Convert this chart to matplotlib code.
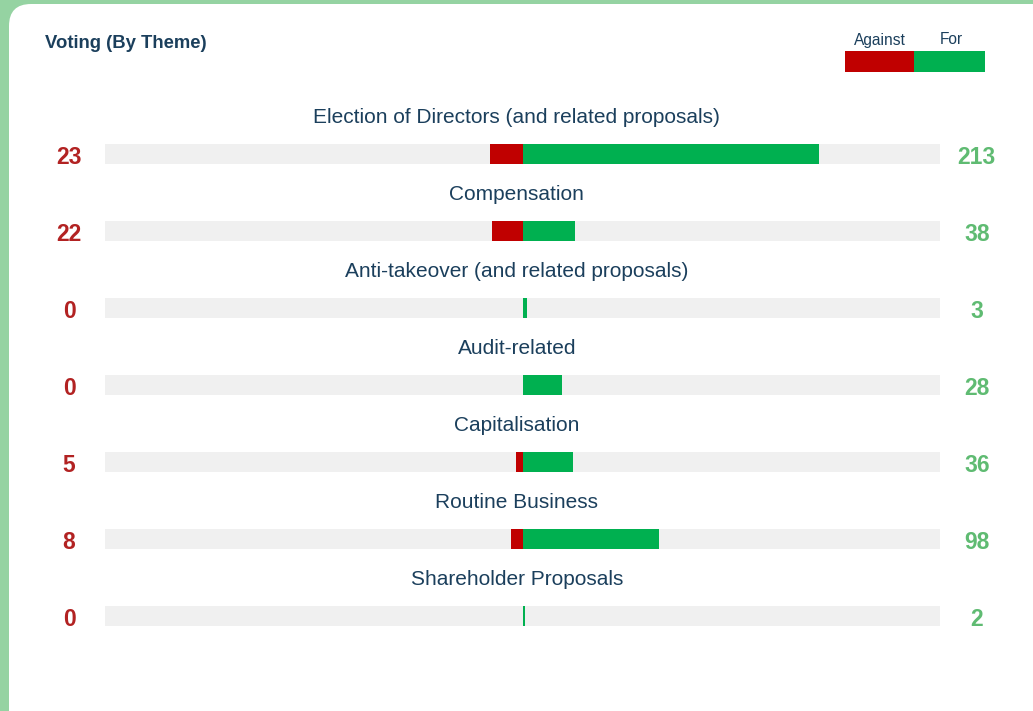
import numpy as np
import matplotlib
matplotlib.use("Agg")
import matplotlib.pyplot as plt
from matplotlib.patches import FancyBboxPatch, Rectangle
import matplotlib.transforms as mtransforms

plt.rcParams['font.family'] = ['Liberation Sans', 'DejaVu Sans']

# data
themes = ['Election of Directors (and related proposals)', 'Compensation',
          'Anti-takeover (and related proposals)', 'Audit-related',
          'Capitalisation', 'Routine Business', 'Shareholder Proposals']
against = [23, 22, 0, 0, 5, 8, 0]
for_votes = [213, 38, 3, 28, 36, 98, 2]

RED = '#c00000'
GREEN = '#00b050'
TRACK = '#f0f0f0'
TXT = '#1b3f5c'
NUM_RED = '#b22222'
NUM_GREEN = '#5fbb72'

W, H = 1033, 711
fig = plt.figure(figsize=(W / 100, H / 100), dpi=100)
fig.patch.set_facecolor('#95d3a2')

# white rounded panel
bg = fig.add_axes([0, 0, 1, 1])
bg.set_xlim(0, W)
bg.set_ylim(H, 0)
bg.axis('off')
bg.add_patch(FancyBboxPatch((9 + 20, 4 + 20), W + 40, H, boxstyle='round,pad=20,rounding_size=22',
                            fc='white', ec='none'))
bg.text(45, 43, 'Voting (By Theme)', fontsize=13.3, fontweight='bold', color=TXT, va='center', ha='left')

# legend
bg.add_patch(Rectangle((845, 51), 69, 21, fc=RED, ec='none'))
bg.add_patch(Rectangle((914, 51), 71, 21, fc=GREEN, ec='none'))
bg.text(879.5, 40, 'Against', fontsize=11.2, color=TXT, ha='center', va='center')
bg.text(951, 39, 'For', fontsize=11.2, color=TXT, ha='center', va='center')

# main bars
left, right = 105, 940
top, bottom = 115.5, 654.5
ax = fig.add_axes([left / W, 1 - bottom / H, (right - left) / W, (bottom - top) / H])
ax.set_xlim(-299.5, 299.5)
ax.set_ylim(len(themes) - 0.5, -0.5)
ax.axis('off')

y = np.arange(len(themes))
bh = 0.27
ax.barh(y, 599, left=-299.5, height=bh, color=TRACK, zorder=1)
ax.barh(y, [-a for a in against], left=0, height=bh, color=RED, zorder=2)
ax.barh(y, for_votes, left=0, height=bh, color=GREEN, zorder=2)

trans = mtransforms.blended_transform_factory(ax.transAxes, ax.transData)
for i, name in enumerate(themes):
    ax.text(-4, i - 0.47, name, fontsize=15, color=TXT, ha='center', va='center')
    ax.text(-0.043, i + 0.045, str(against[i]), transform=trans, fontsize=16.5, fontweight='bold',
            color=NUM_RED, ha='center', va='center', clip_on=False)
    ax.text(1.044, i + 0.045, str(for_votes[i]), transform=trans, fontsize=16.5, fontweight='bold',
            color=NUM_GREEN, ha='center', va='center', clip_on=False)

fig.savefig('out.png', dpi=100, facecolor=fig.get_facecolor())
